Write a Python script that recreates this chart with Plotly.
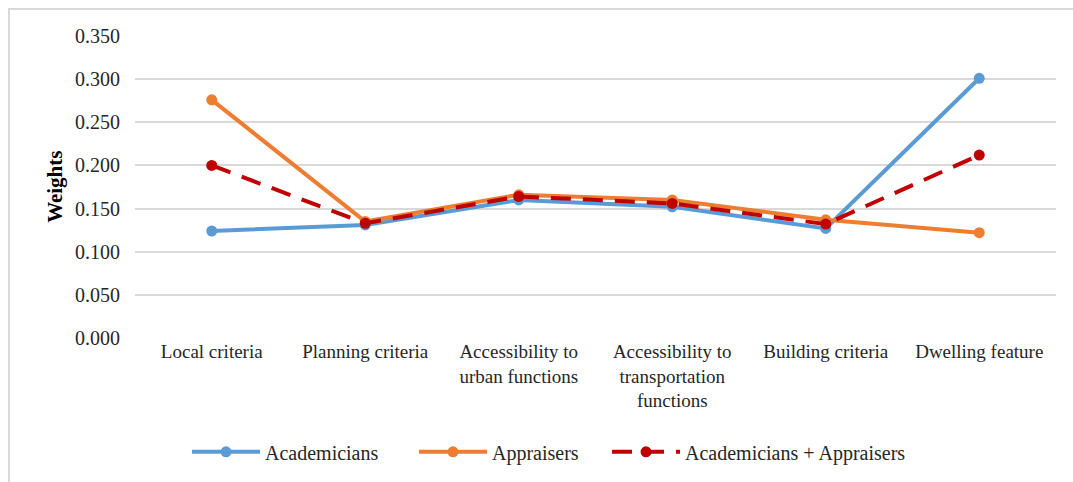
import plotly.graph_objects as go

categories = ["Local criteria", "Planning criteria", "Accessibility to<br>urban functions",
              "Accessibility to<br>transportation<br>functions", "Building criteria", "Dwelling feature"]
academicians = [0.124, 0.131, 0.160, 0.152, 0.127, 0.301]
appraisers = [0.276, 0.135, 0.166, 0.160, 0.137, 0.122]
combined = [0.200, 0.133, 0.164, 0.156, 0.132, 0.212]
y_ticks = [0.0, 0.05, 0.10, 0.15, 0.20, 0.25, 0.30, 0.35]

FONT = "'Liberation Serif', 'Times New Roman', serif"
TXT = "#262626"

fig = go.Figure()
fig.add_trace(go.Scatter(x=categories, y=academicians, name="Academicians", mode="lines+markers",
                         line=dict(color="#5B9BD5", width=4), marker=dict(size=11, color="#5B9BD5"),
                         legend="legend"))
fig.add_trace(go.Scatter(x=categories, y=appraisers, name="Appraisers", mode="lines+markers",
                         line=dict(color="#ED7D31", width=4), marker=dict(size=11, color="#ED7D31"),
                         legend="legend2"))
fig.add_trace(go.Scatter(x=categories, y=combined, name="Academicians + Appraisers", mode="lines+markers",
                         line=dict(color="#C00000", width=4, dash="20px,12px"),
                         marker=dict(size=11, color="#C00000"), legend="legend3"))


def leg(px):
    return dict(orientation="h", x=(px - 135) / 921, xanchor="left", y=-0.377, yanchor="middle",
                font=dict(family=FONT, size=20, color=TXT), itemwidth=68,
                bgcolor="rgba(0,0,0,0)", borderwidth=0)


fig.update_layout(
    width=1073, height=482,
    margin=dict(l=135, r=17, t=36, b=144, autoexpand=False),
    paper_bgcolor="white", plot_bgcolor="white",
    font=dict(family=FONT, size=19, color=TXT),
    showlegend=True,
    legend=leg(187),
    legend2=leg(414),
    legend3=leg(607),
    xaxis=dict(range=[-0.5, 5.5], showgrid=False, showline=False, zeroline=False, ticks="",
               automargin=False, tickfont=dict(family=FONT, size=19, color=TXT)),
    yaxis=dict(range=[0, 0.35], tickvals=y_ticks, tickformat=".3f", showgrid=True,
               gridcolor="#D9D9D9", gridwidth=2, zeroline=False, showline=False, ticks="",
               ticklabelstandoff=14, automargin=False,
               tickfont=dict(family=FONT, size=20, color=TXT)),
    annotations=[dict(text="<b>Weights</b>", textangle=-90, xref="paper", yref="paper",
                      x=-0.087, y=0.5, xanchor="center", yanchor="middle", showarrow=False,
                      font=dict(family=FONT, size=21, color="#000000"))],
    shapes=[dict(type="rect", xref="paper", yref="paper",
                 x0=(9 - 135) / 921, x1=1.05, y0=-0.6, y1=(338 - 9) / 302,
                 line=dict(color="#D9D9D9", width=2), fillcolor="rgba(0,0,0,0)", layer="below")],
)

fig.write_html("out.html", config={"displayModeBar": False},
               post_script="document.body.style.margin='0';document.body.style.padding='0';")
